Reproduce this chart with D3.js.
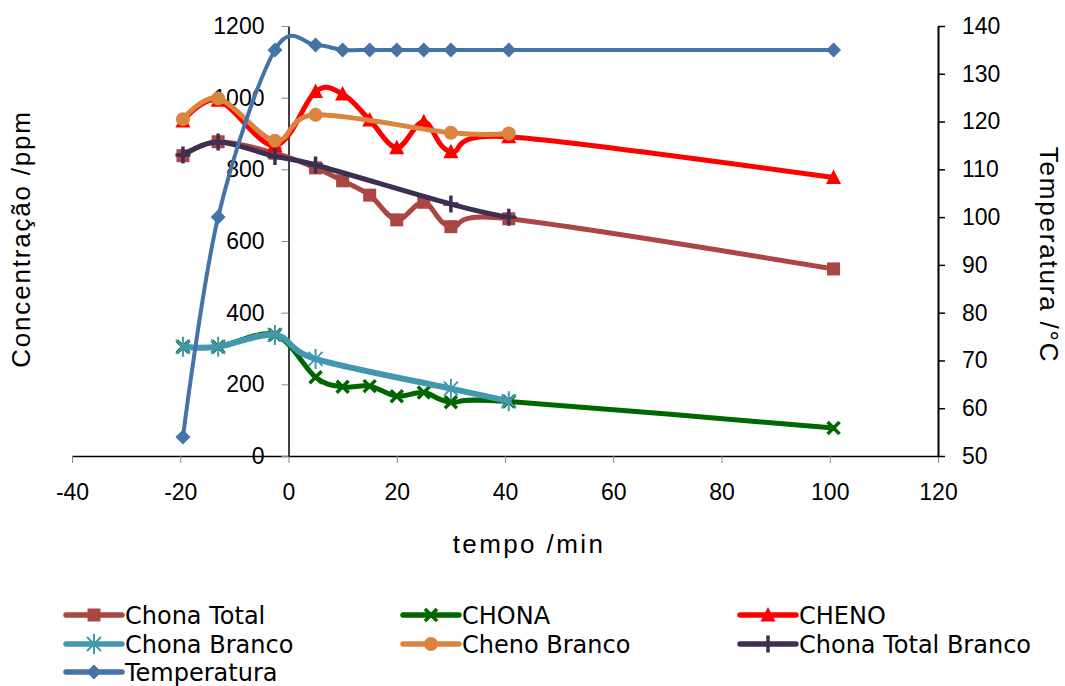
<!DOCTYPE html>
<html>
<head>
<meta charset="utf-8">
<script src="https://cdn.jsdelivr.net/npm/d3@7"></script>
<style>
  html, body { margin: 0; padding: 0; background: #fff; }
  svg { display: block; }
  .tick text { font-family: "Liberation Sans", Arial, sans-serif; font-size: 23px; fill: #000; }
  .title { font-family: "Liberation Sans", Arial, sans-serif; font-size: 26px; fill: #000; }
  .legend text { font-family: "DejaVu Sans", sans-serif; font-size: 24px; fill: #000; }
</style>
</head>
<body>
<svg id="chart" width="1065" height="686"></svg>
<script>
// Sampling times (min)
const tempo = [-19.5, -13, -2.5, 5, 10, 15, 20, 25, 30, 40.7, 100.7];
const tempoBranco = [-19.5, -13, -2.5, 5, 30, 40.7];

// Concentrations (ppm)
const chonaTotal = [838, 877, 845, 804, 768, 728, 659, 708, 640, 662, 522];
const chona = [305, 305, 338, 220, 193, 195, 167, 177, 150, 152, 78];
const cheno = [935, 993, 866, 1017, 1010, 938, 860, 933, 849, 891, 777];
const chonaBranco = [305, 305, 338, 271, 188, 153];
const chenoBranco = [940, 998, 880, 952, 902, 900];
const chonaTotalBranco = [840, 876, 836, 812, 703, 666];

// Temperature (°C), secondary axis
const temperatura = [54, 100, 135, 136, 135, 135, 135, 135, 135, 135, 135];

// Axis ticks
const xTicks = [-40, -20, 0, 20, 40, 60, 80, 100, 120];
const yTicks = [0, 200, 400, 600, 800, 1000, 1200];
const y2Ticks = [50, 60, 70, 80, 90, 100, 110, 120, 130, 140];

const series = [
  { name: "Chona Total", t: tempo, v: chonaTotal, color: "#AA4643", marker: "square", axis: "L", width: 5 },
  { name: "CHONA", t: tempo, v: chona, color: "#006600", marker: "x", axis: "L", width: 5 },
  { name: "CHENO", t: tempo, v: cheno, color: "#FF0000", marker: "triangle", axis: "L", width: 5 },
  { name: "Chona Branco", t: tempoBranco, v: chonaBranco, color: "#4198AF", marker: "star", axis: "L", width: 6 },
  { name: "Cheno Branco", t: tempoBranco, v: chenoBranco, color: "#DB843D", marker: "circle", axis: "L", width: 5 },
  { name: "Chona Total Branco", t: tempoBranco, v: chonaTotalBranco, color: "#3D2F54", marker: "plus", axis: "L", width: 5 },
  { name: "Temperatura", t: tempo, v: temperatura, color: "#4572A7", marker: "diamond", axis: "R", width: 4 }
];

const svg = d3.select("#chart");

const x = d3.scaleLinear().domain([-40, 120]).range([72, 938]);
const yL = d3.scaleLinear().domain([0, 1200]).range([456, 26]);
const yR = d3.scaleLinear().domain([50, 140]).range([456, 26]);
const plain = d => String(d);

// Marker shapes (centred on the data point)
const markerPath = {
  square: "M-6.5,-6.5h13v13h-13z",
  triangle: "M0,-8L7.5,6.5L-7.5,6.5Z",
  diamond: "M0,-7.5L7.5,0L0,7.5L-7.5,0Z",
  x: "M-6,-6L6,6M-6,6L6,-6",
  plus: "M-7.5,0H7.5M0,-8.5V8.5",
  star: "M-7,-7L7,7M-7,7L7,-7M0,-10V10"
};

function drawMarker(g, m, color) {
  if (m === "circle") {
    g.append("circle").attr("r", 7).attr("fill", color);
  } else if (m === "x" || m === "plus") {
    g.append("path").attr("d", markerPath[m]).attr("stroke", color)
      .attr("stroke-width", 3.5).attr("fill", "none");
  } else if (m === "star") {
    g.append("path").attr("d", markerPath[m]).attr("stroke", color)
      .attr("stroke-width", 2).attr("fill", "none");
  } else {
    g.append("path").attr("d", markerPath[m]).attr("fill", color);
  }
}

// Axes
const xAxis = d3.axisBottom(x).tickValues(xTicks).tickFormat(plain)
  .tickSizeInner(7).tickSizeOuter(0).tickPadding(21);
const gx = svg.append("g").attr("transform", "translate(0,456)").call(xAxis);
gx.select(".domain").attr("stroke", "#000").attr("stroke-width", 1.5);
gx.selectAll(".tick line").attr("stroke", "#888");

const yAxis = d3.axisLeft(yL).tickValues(yTicks).tickFormat(plain)
  .tickSizeInner(7).tickSizeOuter(0).tickPadding(17);
const gy = svg.append("g").attr("transform", `translate(${x(0)},0)`).call(yAxis);
gy.select(".domain").attr("stroke", "#000").attr("stroke-width", 1.5);
gy.selectAll(".tick line").attr("stroke", "#888");

const y2Axis = d3.axisRight(yR).tickValues(y2Ticks).tickFormat(plain)
  .tickSizeInner(7).tickSizeOuter(0).tickPadding(17);
const gy2 = svg.append("g").attr("transform", "translate(938,0)").call(y2Axis);
gy2.select(".domain").attr("stroke", "#000").attr("stroke-width", 2);
gy2.selectAll(".tick line").attr("stroke", "#000").attr("stroke-width", 1.5);

// Axis titles
svg.append("text").attr("class", "title")
  .attr("transform", "translate(30,239) rotate(-90)")
  .attr("text-anchor", "middle").style("letter-spacing", "1.8px")
  .text("Concentração /ppm");
svg.append("text").attr("class", "title")
  .attr("transform", "translate(1040,255) rotate(90)")
  .attr("text-anchor", "middle").style("letter-spacing", "1.8px")
  .text("Temperatura /°C");
svg.append("text").attr("class", "title")
  .attr("x", 529).attr("y", 553)
  .attr("text-anchor", "middle").style("letter-spacing", "2.4px")
  .text("tempo /min");

// Series lines and markers
const plot = svg.append("g");
series.forEach(s => {
  const y = s.axis === "R" ? yR : yL;
  const pts = s.t.map((t, i) => [t, s.v[i]]);
  const line = d3.line().x(d => x(d[0])).y(d => y(d[1])).curve(d3.curveCardinal.tension(0));
  const g = plot.append("g");
  g.append("path").datum(pts).attr("d", line)
    .attr("fill", "none").attr("stroke", s.color).attr("stroke-width", s.width)
    .attr("stroke-linejoin", "round").attr("stroke-linecap", "round");
  pts.forEach(d => {
    const mg = g.append("g").attr("transform", `translate(${x(d[0])},${y(d[1])})`);
    drawMarker(mg, s.marker, s.color);
  });
});

// Legend
const legCols = [66, 403, 740];
const legRows = [615, 644, 672];
const legend = svg.append("g").attr("class", "legend");
series.forEach((s, i) => {
  const cx = legCols[i % 3], cy = legRows[Math.floor(i / 3)];
  const g = legend.append("g").attr("transform", `translate(${cx},${cy})`);
  g.append("line").attr("x1", 0).attr("x2", 56).attr("y1", 0).attr("y2", 0)
    .attr("stroke", s.color).attr("stroke-width", 5.5).attr("stroke-linecap", "round");
  drawMarker(g.append("g").attr("transform", "translate(28,0)"), s.marker, s.color);
  g.append("text").attr("x", 59).attr("y", 0).attr("dy", "0.36em").text(s.name);
});
</script>
</body>
</html>
